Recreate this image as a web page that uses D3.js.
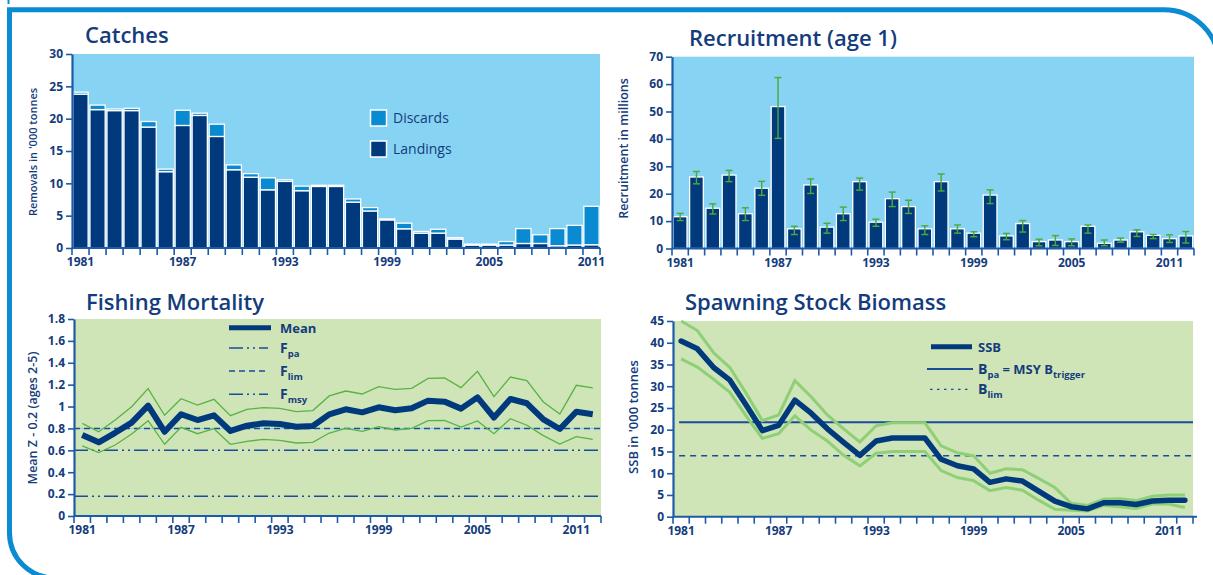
<!DOCTYPE html>
<html><head><meta charset="utf-8">
<script src="https://cdn.jsdelivr.net/npm/d3@7"></script>
<style>body{margin:0;background:#fff}svg{display:block;font-family:'Open Sans',sans-serif}</style>
</head><body><svg id="c" width="1213" height="575"></svg>
<script>
// ---------- DATA ----------
const catchYears = [1981,1982,1983,1984,1985,1986,1987,1988,1989,1990,1991,1992,1993,1994,1995,1996,1997,1998,1999,2000,2001,2002,2003,2004,2005,2006,2007,2008,2009,2010,2011];
const landings = [23.8,21.4,21.25,21.25,18.7,11.8,18.95,20.5,17.25,12.1,10.95,9.0,10.3,8.86,9.52,9.52,7.1,5.73,4.35,2.97,2.3,2.3,1.38,0.46,0.46,0.46,0.7,0.7,0.35,0.46,0.5];
const discards = [0.3,0.7,0.25,0.35,0.86,0.4,2.35,0.35,1.9,0.75,0.55,1.85,0.25,0.71,0.18,0.18,0.48,0.52,0.15,0.87,0.26,0.6,0.22,0.14,0.14,0.54,2.3,1.35,2.65,3.04,5.95];
const catchTicks = [0,5,10,15,20,25,30];

const years = [1981,1982,1983,1984,1985,1986,1987,1988,1989,1990,1991,1992,1993,1994,1995,1996,1997,1998,1999,2000,2001,2002,2003,2004,2005,2006,2007,2008,2009,2010,2011,2012];
const yearLabels = [1981,1987,1993,1999,2005,2011];

const recruitment = [11.6,26.1,14.7,26.8,12.7,22.0,51.8,7.2,23.2,7.8,12.7,24.4,9.6,18.2,15.3,7.2,24.4,7.2,5.6,19.5,4.6,9.1,2.5,3.1,2.5,8.1,1.9,3.1,6.1,4.8,3.6,4.6];
const recLow  = [10.2,23.6,12.6,24.4,10.2,19.4,40.2,5.1,20.1,5.6,10.2,21.3,8.1,15.3,12.8,5.1,21.0,5.6,4.3,16.4,3.2,6.0,1.0,1.1,1.0,5.6,1.0,2.3,4.4,3.6,2.2,2.0];
const recHigh = [12.8,28.1,16.3,28.5,14.85,24.5,62.4,8.1,25.4,9.2,15.1,25.7,10.7,20.6,17.6,8.3,27.2,8.6,6.1,21.4,5.5,10.2,3.4,4.7,3.5,8.6,3.1,3.8,6.8,5.1,5.0,6.2];
const recTicks = [0,10,20,30,40,50,60,70];

const fMean  = [0.74,0.673,0.76,0.853,1.008,0.77,0.93,0.877,0.92,0.777,0.825,0.847,0.84,0.816,0.822,0.929,0.975,0.947,0.993,0.966,0.984,1.054,1.045,0.981,1.084,0.90,1.069,1.03,0.883,0.795,0.953,0.929];
const fHigh  = [0.847,0.77,0.877,0.999,1.164,0.92,1.072,1.014,1.066,0.917,0.975,0.99,0.984,0.953,0.963,1.097,1.142,1.115,1.182,1.157,1.167,1.258,1.261,1.173,1.322,1.09,1.27,1.237,1.042,0.932,1.194,1.17];
const fLow   = [0.64,0.579,0.649,0.749,0.871,0.655,0.81,0.752,0.798,0.655,0.682,0.70,0.691,0.667,0.673,0.758,0.801,0.774,0.816,0.786,0.801,0.871,0.874,0.813,0.868,0.752,0.889,0.829,0.734,0.658,0.725,0.70];
const fTicks = [0,0.2,0.4,0.6,0.8,1,1.2,1.4,1.6,1.8];
const Fpa = 0.6, Flim = 0.8, Fmsy = 0.18;

const ssb     = [40.4,38.6,34.3,31.4,25.7,19.8,21.0,26.8,23.8,20.2,17.1,14.1,17.4,18.1,18.1,18.1,13.2,11.7,11.0,7.9,8.7,8.2,5.9,3.6,2.3,1.8,3.2,3.2,2.8,3.6,3.8,3.8];
const ssbHigh = [45.0,42.8,37.7,34.3,28.4,22.1,23.4,31.3,27.6,23.4,20.2,17.2,20.9,21.6,21.6,21.6,16.3,14.7,14.0,10.0,11.0,10.8,8.8,6.7,3.1,2.6,4.0,4.1,3.7,4.7,5.0,5.0];
const ssbLow  = [36.3,34.4,31.6,28.6,23.2,18.0,19.1,23.2,19.9,17.4,14.1,11.7,14.6,15.0,15.0,15.0,10.6,9.0,8.3,6.0,6.7,6.1,3.8,1.7,1.5,1.3,2.6,2.3,1.9,2.9,2.9,2.1];
const ssbTicks = [0,5,10,15,20,25,30,35,40,45];
const Bpa = 21.7, Blim = 14;

// ---------- STYLE ----------
const NAVY = '#003a7c', AXIS = '#1d5aa8', TXT = '#143c7c', FRAME = '#0a8bd2';
const SKY = '#86d3f3', DISC = '#0a8ad0', GREENBG = '#cfe5b8', GREEN = '#58b343', LGREEN = '#8fcf76', ERR = '#4fa83a';

const svg = d3.select('#c');

// frame
{
  const L = 9.5, T = 9.7, B = 578, R = 1219, r1 = 45, r2 = 55;
  svg.append('path')
    .attr('d', `M${L + r1 + 30},${B} L${L + r1},${B} A${r1},${r1} 0 0 1 ${L},${B - r1} L${L},${T} L${R - r2},${T} A${r2},${r2} 0 0 1 ${R},${T + r2} L${R},${B}`)
    .attr('fill', 'none').attr('stroke', FRAME).attr('stroke-width', 5);
  svg.append('line').attr('x1', 8.5).attr('x2', 8.5).attr('y1', 0).attr('y2', 4).attr('stroke', FRAME).attr('stroke-width', 2);
}

function title(txt, x, y) {
  svg.append('text').attr('x', x).attr('y', y).text(txt)
    .attr('font-size', 22).attr('font-weight', 600).attr('fill', TXT);
}
function yLabel(txt, x, y, size) {
  svg.append('text').attr('transform', `translate(${x},${y}) rotate(-90)`)
    .attr('text-anchor', 'middle').attr('font-size', size).attr('font-weight', 600)
    .attr('fill', TXT).text(txt);
}
function yAxis(scale, x, ticks, fmt) {
  const g = svg.append('g').attr('transform', `translate(${x},0)`)
    .call(d3.axisLeft(scale).tickValues(ticks).tickSize(6).tickSizeOuter(0).tickPadding(3).tickFormat(fmt || (d => d)));
  g.select('.domain').attr('stroke', AXIS).attr('stroke-width', 2.2);
  g.selectAll('.tick line').attr('stroke', AXIS).attr('stroke-width', 1.6);
  g.selectAll('.tick text').attr('fill', TXT).attr('font-size', 12).attr('font-weight', 700)
    .attr('font-family', "'Open Sans',sans-serif");
}
function xAxis(band, y, x0, x1, labels) {
  const bw = band.bandwidth();
  svg.append('line').attr('x1', x0).attr('x2', x1).attr('y1', y).attr('y2', y)
    .attr('stroke', AXIS).attr('stroke-width', 2);
  const dom = band.domain();
  const bounds = dom.map(d => band(d)).concat([band(dom[dom.length - 1]) + bw]);
  svg.append('g').selectAll('line').data(bounds).join('line')
    .attr('x1', d => d).attr('x2', d => d).attr('y1', y).attr('y2', y + 7)
    .attr('stroke', AXIS).attr('stroke-width', 1.6);
  svg.append('g').selectAll('text').data(labels).join('text')
    .attr('x', d => band(d) + bw / 2).attr('y', y + 18)
    .attr('text-anchor', 'middle').attr('font-size', 12).attr('font-weight', 700)
    .attr('fill', TXT).text(d => d);
}

// ---------- CATCHES ----------
{
  const x = d3.scaleBand().domain(catchYears).range([72, 600]);
  const y = d3.scaleLinear().domain([0, 30]).range([248, 54]);
  const bw = x.bandwidth();
  svg.append('rect').attr('x', 72).attr('y', y(30)).attr('width', 528).attr('height', y(0) - y(30)).attr('fill', SKY);
  const g = svg.append('g');
  g.selectAll('rect.l').data(catchYears).join('rect').attr('class', 'l')
    .attr('x', d => x(d) + 0.9).attr('width', bw - 1.8)
    .attr('y', (d, i) => y(landings[i])).attr('height', (d, i) => y(0) - y(landings[i]))
    .attr('fill', NAVY).attr('stroke', '#fff').attr('stroke-width', 1.3);
  g.selectAll('rect.d').data(catchYears).join('rect').attr('class', 'd')
    .attr('x', d => x(d) + 0.9).attr('width', bw - 1.8)
    .attr('y', (d, i) => y(landings[i] + discards[i])).attr('height', (d, i) => y(landings[i]) - y(landings[i] + discards[i]))
    .attr('fill', DISC).attr('stroke', '#fff').attr('stroke-width', 1.3);
  yAxis(y, 72, catchTicks);
  xAxis(x, 248, 72, 600, yearLabels);
  title('Catches', 85, 43);
  yLabel("Removals in '000 tonnes", 37, 152, 11);
  // legend
  const lg = svg.append('g');
  [['Discards', DISC, 110], ['Landings', NAVY, 141]].forEach(([t, c, yy]) => {
    lg.append('rect').attr('x', 370.5).attr('y', yy).attr('width', 16).attr('height', 16)
      .attr('fill', c).attr('stroke', '#fff').attr('stroke-width', 1.5);
    lg.append('text').attr('x', 393).attr('y', yy + 12.5).attr('font-size', 14).attr('fill', TXT).text(t);
  });
}

// ---------- RECRUITMENT ----------
{
  const x = d3.scaleBand().domain(years).range([672, 1194]);
  const y = d3.scaleLinear().domain([0, 70]).range([248.5, 56.7]);
  const bw = x.bandwidth();
  svg.append('rect').attr('x', 672).attr('y', y(70)).attr('width', 522).attr('height', y(0) - y(70)).attr('fill', SKY);
  svg.append('g').selectAll('rect').data(years).join('rect')
    .attr('x', d => x(d) + 1.3).attr('width', bw - 2.6)
    .attr('y', (d, i) => y(recruitment[i])).attr('height', (d, i) => y(0) - y(recruitment[i]))
    .attr('fill', NAVY).attr('stroke', '#fff').attr('stroke-width', 1.3);
  const eg = svg.append('g').attr('stroke', ERR).attr('stroke-width', 1.4);
  years.forEach((d, i) => {
    const cx = x(d) + bw / 2;
    eg.append('line').attr('x1', cx).attr('x2', cx).attr('y1', y(recLow[i])).attr('y2', y(recHigh[i]));
    eg.append('line').attr('x1', cx - 3.5).attr('x2', cx + 3.5).attr('y1', y(recLow[i])).attr('y2', y(recLow[i]));
    eg.append('line').attr('x1', cx - 3.5).attr('x2', cx + 3.5).attr('y1', y(recHigh[i])).attr('y2', y(recHigh[i]));
  });
  yAxis(y, 672, recTicks);
  xAxis(x, 248.5, 672, 1194, yearLabels);
  title('Recruitment (age 1)', 689, 46);
  yLabel('Recruitment in millions', 628, 148.5, 12.5);
}

// ---------- FISHING MORTALITY ----------
{
  const x = d3.scaleBand().domain(years).range([74, 601]);
  const y = d3.scaleLinear().domain([0, 1.8]).range([516, 319]);
  const bw = x.bandwidth();
  svg.append('rect').attr('x', 74).attr('y', y(1.8)).attr('width', 527).attr('height', y(0) - y(1.8)).attr('fill', GREENBG);
  const ref = svg.append('g').attr('stroke', '#1a4c9c').attr('stroke-width', 1.5);
  ref.append('line').attr('x1', 74).attr('x2', 601).attr('y1', y(Flim)).attr('y2', y(Flim)).attr('stroke', '#7fd0f0').attr('stroke-width', 1);
  ref.append('line').attr('x1', 74).attr('x2', 601).attr('y1', y(Flim)).attr('y2', y(Flim)).attr('stroke-dasharray', '6,4');
  ref.append('line').attr('x1', 74).attr('x2', 601).attr('y1', y(Fpa)).attr('y2', y(Fpa)).attr('stroke-dasharray', '14,4,2,4,2,4');
  ref.append('line').attr('x1', 74).attr('x2', 601).attr('y1', y(Fmsy)).attr('y2', y(Fmsy)).attr('stroke-dasharray', '14,4,2,4,2,4');
  const line = arr => d3.line().x((d, i) => x(years[i]) + bw / 2).y(d => y(d))(arr);
  svg.append('path').attr('d', line(fHigh)).attr('fill', 'none').attr('stroke', GREEN).attr('stroke-width', 1.3);
  svg.append('path').attr('d', line(fLow)).attr('fill', 'none').attr('stroke', GREEN).attr('stroke-width', 1.3);
  svg.append('path').attr('d', line(fMean)).attr('fill', 'none').attr('stroke', NAVY).attr('stroke-width', 6).attr('stroke-linejoin', 'round');
  yAxis(y, 74, fTicks, d => String(+d.toFixed(1)));
  xAxis(x, 516, 74, 601, yearLabels);
  title('Fishing Mortality', 86, 310);
  yLabel('Mean Z - 0.2 (ages 2-5)', 37, 418, 12.5);
  // legend
  const lg = svg.append('g');
  lg.append('line').attr('x1', 229).attr('x2', 271).attr('y1', 327.7).attr('y2', 327.7).attr('stroke', NAVY).attr('stroke-width', 5);
  lg.append('text').attr('x', 280).attr('y', 332.5).attr('font-size', 13).attr('font-weight', 700).attr('fill', TXT).text('Mean');
  [['pa', 348, '14,4,2,4,2,4'], ['lim', 371, '6,4'], ['msy', 394.3, '14,4,2,4,2,4']].forEach(([s, yy, da]) => {
    lg.append('line').attr('x1', 229).attr('x2', 268).attr('y1', yy).attr('y2', yy)
      .attr('stroke', '#1a4c9c').attr('stroke-width', 1.5).attr('stroke-dasharray', da);
    const t = lg.append('text').attr('x', 280).attr('y', yy + 4.5).attr('font-weight', 700).attr('fill', TXT);
    t.append('tspan').attr('font-size', 14).text('F');
    t.append('tspan').attr('font-size', 9.5).attr('dy', 4).text(s);
  });
}

// ---------- SSB ----------
{
  const x = d3.scaleBand().domain(years).range([673, 1193]);
  const y = d3.scaleLinear().domain([0, 45]).range([516.7, 321]);
  const bw = x.bandwidth();
  svg.append('rect').attr('x', 673).attr('y', y(45)).attr('width', 520).attr('height', y(0) - y(45)).attr('fill', GREENBG);
  const x0 = x(years[0]) + bw / 2 - 2;
  svg.append('line').attr('x1', x0).attr('x2', 1193).attr('y1', y(Bpa)).attr('y2', y(Bpa)).attr('stroke', '#1a4c9c').attr('stroke-width', 2);
  svg.append('line').attr('x1', x0).attr('x2', 1193).attr('y1', y(Blim)).attr('y2', y(Blim)).attr('stroke', '#1a4c9c').attr('stroke-width', 1.5).attr('stroke-dasharray', '6,5');
  const line = arr => d3.line().x((d, i) => x(years[i]) + bw / 2).y(d => y(d))(arr);
  svg.append('path').attr('d', line(ssbHigh)).attr('fill', 'none').attr('stroke', LGREEN).attr('stroke-width', 3);
  svg.append('path').attr('d', line(ssbLow)).attr('fill', 'none').attr('stroke', LGREEN).attr('stroke-width', 3);
  svg.append('path').attr('d', line(ssb)).attr('fill', 'none').attr('stroke', NAVY).attr('stroke-width', 5.5).attr('stroke-linejoin', 'round').attr('stroke-linecap', 'round');
  yAxis(y, 673, ssbTicks);
  xAxis(x, 516.7, 673, 1197, yearLabels);
  title('Spawning Stock Biomass', 685, 310);
  yLabel("SSB in '000 tonnes", 638, 417, 13);
  // legend
  const lg = svg.append('g');
  lg.append('line').attr('x1', 931).attr('x2', 972).attr('y1', 346.7).attr('y2', 346.7).attr('stroke', NAVY).attr('stroke-width', 5);
  lg.append('text').attr('x', 978).attr('y', 351.5).attr('font-size', 13).attr('font-weight', 700).attr('fill', TXT).text('SSB');
  lg.append('line').attr('x1', 927).attr('x2', 973).attr('y1', 369).attr('y2', 369).attr('stroke', '#1a4c9c').attr('stroke-width', 2);
  const t1 = lg.append('text').attr('x', 978).attr('y', 373.5).attr('font-weight', 700).attr('fill', TXT);
  t1.append('tspan').attr('font-size', 14).text('B');
  t1.append('tspan').attr('font-size', 9.5).attr('dy', 4).text('pa');
  t1.append('tspan').attr('font-size', 13).attr('dy', -4).text(' = MSY B');
  t1.append('tspan').attr('font-size', 9.5).attr('dy', 4).text('trigger');
  lg.append('line').attr('x1', 930).attr('x2', 968).attr('y1', 389.3).attr('y2', 389.3).attr('stroke', '#1a4c9c').attr('stroke-width', 1.3).attr('stroke-dasharray', '2.5,4.5');
  const t2 = lg.append('text').attr('x', 978).attr('y', 394).attr('font-weight', 700).attr('fill', TXT);
  t2.append('tspan').attr('font-size', 14).text('B');
  t2.append('tspan').attr('font-size', 9.5).attr('dy', 4).text('lim');
}
</script>
</body></html>
